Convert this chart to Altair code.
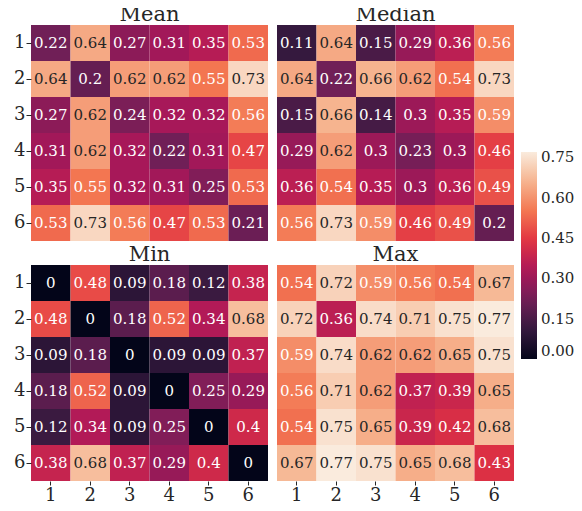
import altair as alt
import pandas as pd

labels = ["1", "2", "3", "4", "5", "6"]

mean_vals = [
    [0.22, 0.64, 0.27, 0.31, 0.35, 0.53],
    [0.64, 0.2, 0.62, 0.62, 0.55, 0.73],
    [0.27, 0.62, 0.24, 0.32, 0.32, 0.56],
    [0.31, 0.62, 0.32, 0.22, 0.31, 0.47],
    [0.35, 0.55, 0.32, 0.31, 0.25, 0.53],
    [0.53, 0.73, 0.56, 0.47, 0.53, 0.21],
]
median_vals = [
    [0.11, 0.64, 0.15, 0.29, 0.36, 0.56],
    [0.64, 0.22, 0.66, 0.62, 0.54, 0.73],
    [0.15, 0.66, 0.14, 0.3, 0.35, 0.59],
    [0.29, 0.62, 0.3, 0.23, 0.3, 0.46],
    [0.36, 0.54, 0.35, 0.3, 0.36, 0.49],
    [0.56, 0.73, 0.59, 0.46, 0.49, 0.2],
]
min_vals = [
    [0, 0.48, 0.09, 0.18, 0.12, 0.38],
    [0.48, 0, 0.18, 0.52, 0.34, 0.68],
    [0.09, 0.18, 0, 0.09, 0.09, 0.37],
    [0.18, 0.52, 0.09, 0, 0.25, 0.29],
    [0.12, 0.34, 0.09, 0.25, 0, 0.4],
    [0.38, 0.68, 0.37, 0.29, 0.4, 0],
]
max_vals = [
    [0.54, 0.72, 0.59, 0.56, 0.54, 0.67],
    [0.72, 0.36, 0.74, 0.71, 0.75, 0.77],
    [0.59, 0.74, 0.62, 0.62, 0.65, 0.75],
    [0.56, 0.71, 0.62, 0.37, 0.39, 0.65],
    [0.54, 0.75, 0.65, 0.39, 0.42, 0.68],
    [0.67, 0.77, 0.75, 0.65, 0.68, 0.43],
]

rocket = ["#030519", "#35193e", "#701f57", "#ad1759", "#e13342",
          "#f37651", "#f6b48f", "#faebdd"]
color_domain = [0, 0.77]
legend_values = [0.0, 0.15, 0.30, 0.45, 0.60, 0.75]

FONT = "DejaVu Serif"
INK = "#262626"
W, H = 237, 216


def to_df(mat):
    rows = []
    for i, r in enumerate(mat):
        for j, v in enumerate(r):
            rows.append({"row": labels[i], "col": labels[j], "value": v,
                         "label": f"{v:g}"})
    return pd.DataFrame(rows)


def panel(mat, title, show_x, show_y):
    df = to_df(mat)
    xaxis = alt.Axis(labelAngle=0, domain=False, ticks=True, tickSize=4,
                     tickColor=INK, labelFont=FONT, labelFontSize=18,
                     labelColor=INK, labelPadding=1, title=None) if show_x else None
    yaxis = alt.Axis(domain=False, ticks=True, tickSize=5, tickColor=INK,
                     labelFont=FONT, labelFontSize=18, labelColor=INK,
                     labelPadding=1, title=None) if show_y else None
    x = alt.X("col:O", sort=labels, axis=xaxis,
              scale=alt.Scale(paddingInner=0, paddingOuter=0))
    y = alt.Y("row:O", sort=labels, axis=yaxis,
              scale=alt.Scale(paddingInner=0, paddingOuter=0))
    base = alt.Chart(df)
    rect = base.mark_rect(strokeWidth=0).encode(
        x=x, y=y,
        color=alt.Color("value:Q",
                        scale=alt.Scale(domain=color_domain, range=rocket,
                                        interpolate="rgb"),
                        legend=alt.Legend(
                            title=None, orient="none", legendX=490, legendY=127,
                            direction="vertical", gradientLength=207,
                            gradientThickness=16, values=legend_values,
                            format=".2f", labelFont=FONT, labelFontSize=15,
                            labelColor=INK, labelOffset=4,
                            labelBaseline="middle", gradientStrokeWidth=0)),
    )
    text = base.mark_text(font=FONT, fontSize=15).encode(
        x=x, y=y, text="label:N",
        color=alt.condition(alt.datum.value >= 0.6, alt.value(INK),
                            alt.value("white")),
    )
    return (rect + text).properties(
        width=W, height=H,
        title=alt.TitleParams(title, font=FONT, fontSize=21, fontWeight="normal",
                              color=INK, offset=3, baseline="alphabetic", dy=20),
    )


chart = alt.concat(
    panel(mean_vals, "Mean", False, True),
    panel(median_vals, "Median", False, False),
    panel(min_vals, "Min", True, True),
    panel(max_vals, "Max", True, False),
    columns=2, spacing={"column": 9, "row": 24}, bounds="flush",
).properties(
    autosize=alt.AutoSizeParams(type="none"),
    padding={"left": 23, "top": 17, "right": 543, "bottom": 478},
).configure_view(stroke=None)

chart.save("out.html", embed_options={"renderer": "svg", "actions": False})
